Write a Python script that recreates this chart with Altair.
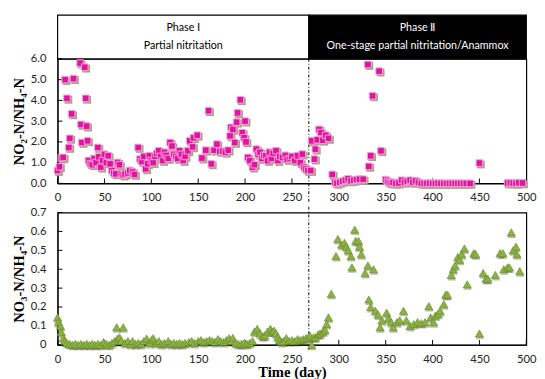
import altair as alt
import pandas as pd

# ---------------- data ----------------
no2_days = [0, 2, 4, 6, 8, 10, 12, 13, 15, 17, 24, 25, 26, 29, 30, 31, 32, 33, 35, 37,
            39, 41, 43, 44, 46, 48, 50, 52, 54, 56, 58, 60, 62, 64, 66, 68, 70, 72, 75, 77,
            80, 82, 86, 88, 90, 92, 94, 96, 98, 100, 102, 104, 106, 108, 110, 112, 114, 116, 118, 120,
            122, 124, 126, 128, 130, 132, 134, 136, 139, 141, 144, 145, 149, 154, 158, 161, 164, 167, 170, 173,
            176, 179, 182, 184, 185, 187, 189, 191, 192, 195, 197, 199, 200, 201, 203, 205, 208, 210, 212, 214,
            216, 218, 220, 222, 224, 226, 228, 230, 233, 235, 237, 240, 243, 245, 248, 250, 253, 256, 259, 261,
            263, 265, 267,
            270, 271, 274, 275, 277, 279, 281, 283, 286, 289, 293, 296, 298, 301, 304, 307, 310, 313, 316, 319,
            322, 326, 331, 332, 334, 336, 343, 345, 350, 352, 354, 356, 358, 361, 364, 367, 370, 373, 376, 379,
            382, 385, 388, 391, 394, 397, 400, 403, 406, 409, 412, 415, 418, 421, 424, 427, 430, 433, 436, 440,
            450, 480, 483, 486, 489, 492, 496]
no2_vals = [0.62, 0.80, 1.22, 1.25, 5.00, 4.10, 1.73, 2.17, 3.35, 5.05, 5.80, 2.84, 1.97, 5.60, 4.10, 2.76, 2.05, 1.10, 0.95, 0.90,
            1.20, 1.00, 1.73, 1.28, 0.78, 1.10, 1.40, 1.00, 1.33, 0.94, 0.62, 0.50, 0.46, 1.01, 0.90, 0.46, 0.40, 0.45, 0.50, 0.62,
            0.55, 0.43, 1.73, 1.17, 1.05, 1.30, 0.70, 0.95, 1.33, 1.10, 1.00, 1.30, 1.45, 1.57, 1.30, 1.10, 1.50, 1.35, 1.20, 1.97,
            1.80, 1.40, 1.30, 1.20, 1.57, 1.40, 1.10, 1.30, 1.57, 2.05, 1.76, 2.20, 2.32, 1.22, 1.60, 3.50, 0.94, 1.60, 1.89, 1.55,
            1.55, 1.50, 1.60, 2.29, 2.70, 2.60, 1.97, 2.95, 3.40, 4.03, 2.44, 2.20, 3.00, 2.00, 1.25, 1.10, 0.78, 0.90, 1.65, 1.40,
            1.50, 1.20, 1.35, 1.33, 1.10, 1.50, 1.20, 1.45, 1.57, 1.10, 1.30, 1.25, 1.35, 1.15, 1.20, 1.30, 1.10, 1.33, 1.00, 1.41,
            0.78, 0.70, 0.62,
            0.62, 2.05, 1.17, 1.65, 2.10, 2.60, 2.45, 2.08, 2.32, 2.17, 0.43, 0.05, 0.00, 0.05, 0.10, 0.15, 0.22, 0.12, 0.15, 0.18,
            0.20, 0.20, 5.73, 0.82, 1.33, 4.22, 5.41, 1.57, 0.18, 0.10, 0.05, 0.02, 0.05, 0.00, 0.02, 0.15, 0.05, 0.10, 0.15, 0.05,
            0.12, 0.05, 0.00, 0.00, 0.00, 0.01, 0.00, 0.00, 0.01, 0.00, 0.00, 0.00, 0.00, 0.00, 0.00, 0.00, 0.00, 0.00, 0.00, 0.00,
            0.98, 0.02, 0.03, 0.02, 0.00, 0.03, 0.02]

no3_days = [0, 1, 3, 4, 6, 8, 10, 13, 16, 19, 22, 25, 28, 31, 34, 37, 40, 43, 46, 49,
            52, 55, 58, 61, 63, 64, 66, 68, 70, 72, 75, 78, 80, 83, 86, 89, 92, 95, 98, 100,
            102, 105, 108, 111, 114, 118, 121, 124, 127, 130, 133, 136, 140, 143, 146, 150, 153, 156, 159, 162,
            165, 168, 171, 174, 177, 180, 183, 185, 187, 190, 193, 196, 199, 202, 205, 208, 210, 213, 216, 219,
            221, 224, 227, 229, 231, 233, 235, 237, 239, 241, 244, 247, 250, 253, 256, 259, 262, 265, 268, 269,
            271, 273, 275, 278, 280, 283, 285, 287, 289, 292, 297, 299, 303, 306, 308, 310, 313, 314, 317, 318,
            321, 322, 324, 328, 331, 332, 334, 337, 339, 342, 344, 346, 351, 353, 356, 358, 362, 365, 369, 372,
            376, 380, 384, 388, 392, 396, 398, 401, 403, 406, 408, 412, 414, 416, 420, 422, 424, 427, 429, 431,
            434, 437, 444, 446, 450, 454, 457, 459, 467, 472, 475, 476, 480, 482, 484, 486, 489, 490, 493]
no3_vals = [0.145, 0.12, 0.10, 0.067, 0.035, 0.02, 0.01, 0.005, 0.0, 0.005, 0.0, 0.005, 0.0, 0.005, 0.0, 0.005, 0.0, 0.005, 0.0, 0.015,
            0.005, 0.0, 0.01, 0.02, 0.093, 0.033, 0.04, 0.02, 0.093, 0.01, 0.02, 0.005, 0.02, 0.005, 0.01, 0.005, 0.02, 0.033, 0.01, 0.025,
            0.035, 0.01, 0.02, 0.005, 0.01, 0.02, 0.005, 0.01, 0.005, 0.01, 0.005, 0.01, 0.015, 0.02, 0.01, 0.02, 0.025, 0.015, 0.02, 0.025,
            0.02, 0.015, 0.03, 0.02, 0.015, 0.025, 0.035, 0.02, 0.037, 0.01, 0.005, 0.005, 0.01, 0.005, 0.01, 0.02, 0.07, 0.085, 0.06, 0.045,
            0.05, 0.07, 0.085, 0.07, 0.075, 0.06, 0.04, 0.025, 0.015, 0.02, 0.035, 0.02, 0.025, 0.02, 0.03, 0.025, 0.03, 0.035, 0.04, 0.05,
            0.0, 0.04, 0.04, 0.055, 0.06, 0.07, 0.08, 0.11, 0.145, 0.27, 0.47, 0.56, 0.53, 0.54, 0.52, 0.50, 0.47, 0.41, 0.61, 0.55,
            0.55, 0.52, 0.48, 0.38, 0.42, 0.24, 0.20, 0.40, 0.18, 0.16, 0.093, 0.13, 0.17, 0.14, 0.12, 0.093, 0.12, 0.13, 0.18, 0.13,
            0.10, 0.11, 0.12, 0.115, 0.12, 0.205, 0.145, 0.12, 0.155, 0.165, 0.18, 0.215, 0.265, 0.265, 0.37, 0.40, 0.42, 0.465, 0.45, 0.48,
            0.51, 0.32, 0.485, 0.48, 0.06, 0.38, 0.35, 0.35, 0.37, 0.485, 0.485, 0.40, 0.41, 0.41, 0.595, 0.50, 0.52, 0.48, 0.39]

x_ticks = [0, 50, 100, 150, 200, 250, 300, 350, 400, 450, 500]
no2_ticks = [0, 1, 2, 3, 4, 5, 6]
no3_ticks = [0, 0.1, 0.2, 0.3, 0.4, 0.5, 0.6, 0.7]

phase_names = ["Phase Ⅰ", "Phase Ⅱ"]
phase_desc = ["Partial nitritation", "One-stage partial nitritation/Anammox"]
phase_start = [0, 268]
phase_end = [268, 500]
phase_split = [268]

# ---------------- tables ----------------
df_no2 = pd.DataFrame({"day": no2_days, "ratio": no2_vals})
df_no3 = pd.DataFrame({"day": no3_days, "ratio": no3_vals})
df_phase = pd.DataFrame({"name": phase_names, "desc": phase_desc,
                         "start": phase_start, "end": phase_end})
df_phase["mid"] = (df_phase["start"] + df_phase["end"]) / 2
df_split = pd.DataFrame({"day": phase_split})
df_xt = pd.DataFrame({"t": x_ticks})
df_yt2 = pd.DataFrame({"t": no2_ticks})
df_yt3 = pd.DataFrame({"t": no3_ticks})

W, H1, H2, HEAD = 482, 128, 136, 45
LABEL_FONT = "Lato"
TITLE_FONT = "Liberation Serif"

xscale = alt.Scale(domain=[0, 500], nice=False, zero=False)


def xaxis(title=None):
    kw = dict(values=x_ticks, tickSize=0, labelPadding=9, labelFont=LABEL_FONT,
              labelFontSize=11.5, labelColor="#222222", domainColor="black",
              grid=False, labelFlush=False)
    if title:
        kw.update(title=title, titleFont=TITLE_FONT, titleFontSize=15,
                  titleFontWeight="bold", titleColor="black", titlePadding=0)
    else:
        kw.update(title=None)
    return alt.Axis(**kw)


def yaxis(title, values, **extra):
    return alt.Axis(values=values, tickSize=0, labelPadding=12, labelFont=LABEL_FONT,
                    labelFontSize=11.5, labelColor="#222222", domainColor="black",
                    grid=False, minExtent=30, maxExtent=30, title=title,
                    titleFont=TITLE_FONT, titleFontSize=15, titleFontWeight="bold",
                    titleColor="black", titlePadding=2, **extra)


phase_fill = alt.Scale(domain=phase_names, range=["white", "black"])
phase_text = alt.Scale(domain=phase_names, range=["black", "white"])

# ---------------- top panel ----------------
ax_top = xaxis()
y2scale = alt.Scale(domain=[0, 6], nice=False)
y2axis = yaxis("NO₂-N/NH₄-N", no2_ticks, format=".1f")

head_rect = alt.Chart(df_phase).mark_rect(stroke="black", strokeWidth=1.2).encode(
    x=alt.X("start:Q", scale=xscale, axis=ax_top), x2="end:Q",
    y=alt.value(-HEAD), y2=alt.value(0),
    fill=alt.Fill("name:N", scale=phase_fill, legend=None))
head_t1 = alt.Chart(df_phase).mark_text(font=LABEL_FONT, fontSize=11, baseline="middle").encode(
    x=alt.X("mid:Q", scale=xscale, axis=ax_top), y=alt.value(-32), text="name:N",
    color=alt.Color("name:N", scale=phase_text, legend=None))
head_t2 = alt.Chart(df_phase).mark_text(font=LABEL_FONT, fontSize=11, baseline="middle").encode(
    x=alt.X("mid:Q", scale=xscale, axis=ax_top), y=alt.value(-13), text="desc:N",
    color=alt.Color("name:N", scale=phase_text, legend=None))

sq_shadow = alt.Chart(df_no2).mark_square(size=64, color="#a7a38b", opacity=1,
                                          xOffset=1.5, yOffset=1.5).encode(
    x=alt.X("day:Q", scale=xscale, axis=ax_top),
    y=alt.Y("ratio:Q", scale=y2scale, axis=y2axis))
sq_main = alt.Chart(df_no2).mark_square(size=46, fill="#e0159f", fillOpacity=1,
                                        stroke="#f5a3dc", strokeWidth=1).encode(
    x=alt.X("day:Q", scale=xscale, axis=ax_top),
    y=alt.Y("ratio:Q", scale=y2scale, axis=y2axis))
top_xt = alt.Chart(df_xt).mark_rule(color="black").encode(
    x=alt.X("t:Q", scale=xscale, axis=ax_top), y=alt.value(H1), y2=alt.value(H1 - 5))
top_yt = alt.Chart(df_yt2).mark_rule(color="black").encode(
    y=alt.Y("t:Q", scale=y2scale, axis=y2axis), x=alt.value(0), x2=alt.value(5))
top_split = alt.Chart(df_split).mark_rule(color="black", strokeWidth=1,
                                          strokeDash=[3, 2, 1, 2]).encode(
    x=alt.X("day:Q", scale=xscale, axis=ax_top), y=alt.value(0), y2=alt.value(H1 + 19))

top = alt.layer(head_rect, head_t1, head_t2, top_split, top_xt, top_yt,
                sq_shadow, sq_main).properties(width=W, height=H1)

# ---------------- bottom panel ----------------
ax_bot = xaxis("Time (day)")
y3scale = alt.Scale(domain=[0, 0.7], nice=False)
y3axis = yaxis("NO₃-N/NH₄-N", no3_ticks,
               labelExpr="datum.value == 0 ? '0' : format(datum.value, '.1f')")

tri_shadow = alt.Chart(df_no3).mark_point(shape="triangle-up", filled=True, size=80,
                                          color="#3a3a2a", opacity=0.35,
                                          xOffset=0.5, yOffset=1.8).encode(
    x=alt.X("day:Q", scale=xscale, axis=ax_bot),
    y=alt.Y("ratio:Q", scale=y3scale, axis=y3axis))
tri_main = alt.Chart(df_no3).mark_point(shape="triangle-up", filled=True, size=72,
                                        fill="#8cb241", opacity=1,
                                        stroke="#63872a", strokeWidth=0.6).encode(
    x=alt.X("day:Q", scale=xscale, axis=ax_bot),
    y=alt.Y("ratio:Q", scale=y3scale, axis=y3axis))
bot_xt = alt.Chart(df_xt).mark_rule(color="black").encode(
    x=alt.X("t:Q", scale=xscale, axis=ax_bot), y=alt.value(H2), y2=alt.value(H2 - 5))
bot_yt = alt.Chart(df_yt3).mark_rule(color="black").encode(
    y=alt.Y("t:Q", scale=y3scale, axis=y3axis), x=alt.value(0), x2=alt.value(5))
bot_split = alt.Chart(df_split).mark_rule(color="black", strokeWidth=1,
                                          strokeDash=[3, 2, 1, 2]).encode(
    x=alt.X("day:Q", scale=xscale, axis=ax_bot), y=alt.value(-6), y2=alt.value(H2 + 7))

bottom = alt.layer(bot_split, bot_xt, bot_yt, tri_shadow, tri_main).properties(
    width=W, height=H2)

chart = alt.vconcat(top, bottom, spacing=0).properties(
    padding={"left": 3, "top": 0, "right": 0, "bottom": 0},
    background="white",
).configure_view(stroke="black", strokeWidth=1.2)

chart.save("out.html", embed_options={"renderer": "svg", "actions": False})
